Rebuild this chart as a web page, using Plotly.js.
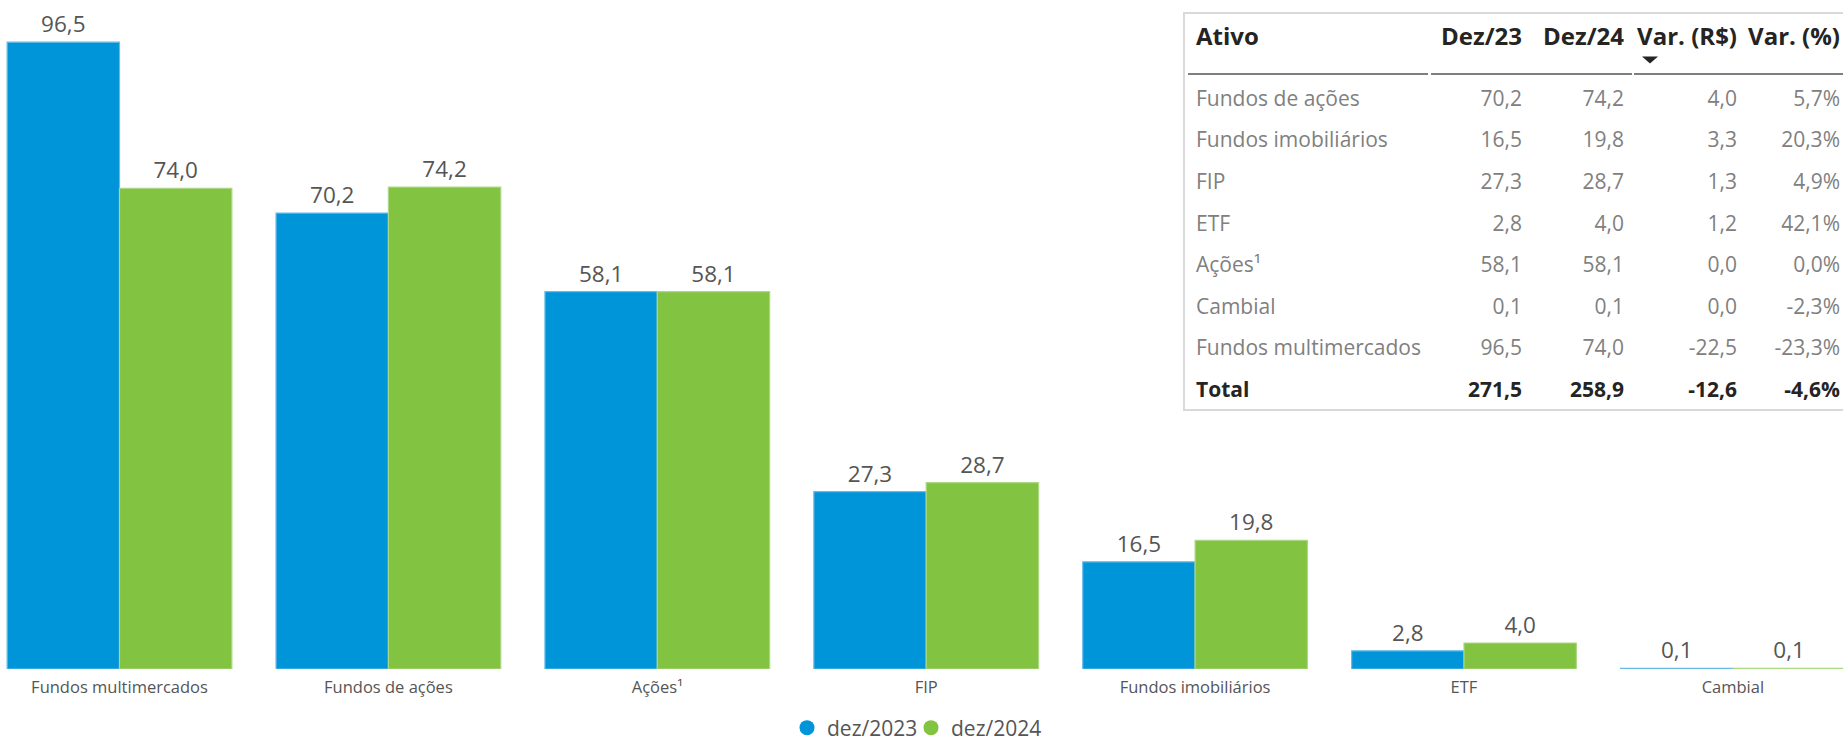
<!DOCTYPE html>
<html>
<head>
<meta charset="utf-8">
<script src="https://cdn.plot.ly/plotly-3.0.1.min.js"></script>
<style>
html,body{margin:0;padding:0;overflow:hidden;background:#ffffff;width:1843px;height:742px}
#chart{width:1870px;height:742px}
</style>
</head>
<body>
<div id="chart"></div>
<script>
// ---- data ----
const categories = ['Fundos multimercados', 'Fundos de ações', 'Ações¹', 'FIP', 'Fundos imobiliários', 'ETF', 'Cambial'];
const dez2023 = [96.5, 70.2, 58.1, 27.3, 16.5, 2.8, 0.1];
const dez2024 = [74.0, 74.2, 58.1, 28.7, 19.8, 4.0, 0.1];
const seriesNames = ['dez/2023', 'dez/2024'];

const tableHeader = ['Ativo', 'Dez/23', 'Dez/24', 'Var. (R$)', 'Var. (%)'];
const tableAssets = ['Fundos de ações', 'Fundos imobiliários', 'FIP', 'ETF', 'Ações¹', 'Cambial', 'Fundos multimercados', 'Total'];
const tableDez23 = [70.2, 16.5, 27.3, 2.8, 58.1, 0.1, 96.5, 271.5];
const tableDez24 = [74.2, 19.8, 28.7, 4.0, 58.1, 0.1, 74.0, 258.9];
const tableVarRs = [4.0, 3.3, 1.3, 1.2, 0.0, 0.0, -22.5, -12.6];
const tableVarPct = [5.7, 20.3, 4.9, 42.1, 0.0, -2.3, -23.3, -4.6];

// ---- styling helpers ----
const W = 1870, H = 742, MB = 73;
const PH = H - MB;
const px2x = p => p / W;
const py2y = p => (PH - p) / PH;

const BLUE = '#0094d9', GREEN = '#82c341';
const FONT = 'Open Sans, Noto Sans, sans-serif';
const LABEL = '#555555';

const nb = s => String(s).replace(/ /g, '\u00a0');
const fmt = v => v.toFixed(1).replace('.', ',');
const lastIdx = tableAssets.length - 1;

const cellCols = [
  tableAssets.map(nb),
  tableDez23.map(fmt),
  tableDez24.map(fmt),
  tableVarRs.map(fmt),
  tableVarPct.map(v => fmt(v) + '%')
];
const rowColors = tableAssets.map((_, i) => i === lastIdx ? '#252423' : '#808080');
const rowWeights = tableAssets.map((_, i) => i === lastIdx ? 700 : 400);
const cellColors = cellCols.map(() => rowColors);
const cellWeights = cellCols.map(() => rowWeights);

const barCommon = {
  type: 'bar',
  x: categories,
  texttemplate: '%{y:.1f}',
  textposition: 'outside',
  cliponaxis: false,
  constraintext: 'none',
  textfont: {family: FONT, size: 22.5, color: LABEL},
  showlegend: false,
  hoverinfo: 'skip'
};

const traces = [
  Object.assign({}, barCommon, {y: dez2023, name: seriesNames[0],
    marker: {color: BLUE, line: {color: '#66b9e8', width: 1.2}}}),
  Object.assign({}, barCommon, {y: dez2024, name: seriesNames[1],
    marker: {color: GREEN, line: {color: '#acd783', width: 1.2}}}),
  // legend entries (circle symbols)
  {type: 'scatter', mode: 'markers', x: [null], y: [null], name: seriesNames[0],
   legendwidth: 79,
   marker: {color: BLUE, size: 15, symbol: 'circle'}, hoverinfo: 'skip'},
  {type: 'scatter', mode: 'markers', x: [null], y: [null], name: seriesNames[1],
   marker: {color: GREEN, size: 15, symbol: 'circle'}, hoverinfo: 'skip'},
  {
    type: 'table',
    domain: {x: [px2x(1188), px2x(1848)], y: [py2y(422), py2y(19.4)]},
    columnwidth: [241, 101, 102, 113, 103],
    header: {
      values: tableHeader.map(nb),
      align: ['left', 'right', 'right', 'right', 'right'],
      height: 62.6,
      fill: {color: '#ffffff'},
      line: {color: '#ffffff', width: 1},
      font: {family: FONT, size: 24, color: '#252423', weight: 700}
    },
    cells: {
      values: cellCols,
      align: ['left', 'right', 'right', 'right', 'right'],
      height: 41.6,
      fill: {color: '#ffffff'},
      line: {color: '#ffffff', width: 1},
      font: {family: FONT, size: 21, color: cellColors, weight: cellWeights}
    }
  }
];

const underline = (a, b) => ({type: 'line', xref: 'paper', yref: 'paper',
  x0: px2x(a), x1: px2x(b), y0: py2y(74), y1: py2y(74),
  line: {color: '#7f7f7f', width: 2}, layer: 'above'});

const layout = {
  width: W, height: H,
  margin: {l: 0, r: 0, t: 0, b: MB, pad: 0, autoexpand: false},
  separators: ',.',
  paper_bgcolor: '#ffffff',
  plot_bgcolor: '#ffffff',
  barmode: 'group',
  bargap: 0.1644,
  bargroupgap: 0,
  font: {family: FONT, color: LABEL},
  xaxis: {
    type: 'category',
    range: [-0.4444, -0.4444 + W / 268.9],
    showgrid: false, zeroline: false, showline: false, ticks: '',
    tickfont: {family: FONT, size: 16.5, color: LABEL},
    ticklabelstandoff: 6,
    automargin: false,
    fixedrange: true
  },
  yaxis: {range: [0, 103], visible: false, fixedrange: true},
  legend: {
    orientation: 'h',
    x: px2x(787), xanchor: 'left',
    y: py2y(728), yanchor: 'middle',
    font: {family: FONT, size: 21, color: LABEL},
    itemwidth: 30,
    bgcolor: 'rgba(0,0,0,0)'
  },
  shapes: [
    {type: 'rect', xref: 'paper', yref: 'paper',
     x0: px2x(1184), x1: px2x(1866), y0: py2y(410), y1: py2y(13),
     line: {color: '#d9d9d9', width: 2}, fillcolor: 'rgba(0,0,0,0)', layer: 'above'},
    underline(1188, 1428),
    underline(1431, 1632),
    underline(1634, 1866),
    {type: 'path', xref: 'paper', yref: 'paper',
     path: 'M ' + px2x(1642) + ',' + py2y(56.5) + ' L ' + px2x(1658) + ',' + py2y(56.5) +
           ' L ' + px2x(1650) + ',' + py2y(63.5) + ' Z',
     fillcolor: '#252423', line: {width: 0}, layer: 'above'}
  ]
};

Plotly.newPlot('chart', traces, layout, {displayModeBar: false, staticPlot: true});
</script>
</body>
</html>
